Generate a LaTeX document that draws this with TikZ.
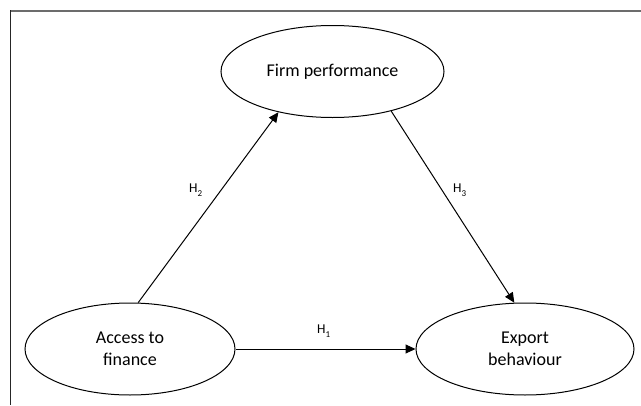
\documentclass[tikz,border=0pt]{standalone}
\usepackage{fontspec}
\setmainfont{Carlito}
\usetikzlibrary{shapes.geometric,arrows.meta}
\begin{document}
\begin{tikzpicture}[x=1pt,y=-1pt,
  construct/.style={ellipse,draw,line width=1pt,inner sep=0pt,align=center,
    font=\fontsize{18}{21.5}\selectfont},
  link/.style={line width=1pt,-{Triangle[length=10pt,width=9pt]}},
  hyp/.style={anchor=base west,inner sep=0pt,font=\fontsize{13.5}{14}\selectfont}]
\useasboundingbox (0,0) rectangle (641,405);
\draw[line width=2pt,gray!85!black] (10,11) -- (641,11);
\draw[line width=1pt,black!85] (10.5,10) -- (10.5,405);
\node[construct,minimum width=223pt,minimum height=92pt] (firm) at (332.5,71.5) {Firm performance};
\node[construct,minimum width=210pt,minimum height=92pt] (acc) at (130,349) {Access to\\finance};
\node[construct,minimum width=218pt,minimum height=92pt] (exp) at (525,349) {Export\\behaviour};
\draw[link] (acc.80) -- (firm.217);
\draw[link] (firm.326) -- (exp.103);
\draw[link] (acc.east) -- (exp.west);
\newcommand{\hsub}[1]{H\raisebox{-4.5pt}{\fontsize{9}{9}\selectfont #1}}
\node[hyp] (h2) at (189,192) {\hsub{2}};
\node[hyp] (h3) at (453,192) {\hsub{3}};
\node[hyp] (h1) at (317,333) {\hsub{1}};
\end{tikzpicture}
\end{document}
